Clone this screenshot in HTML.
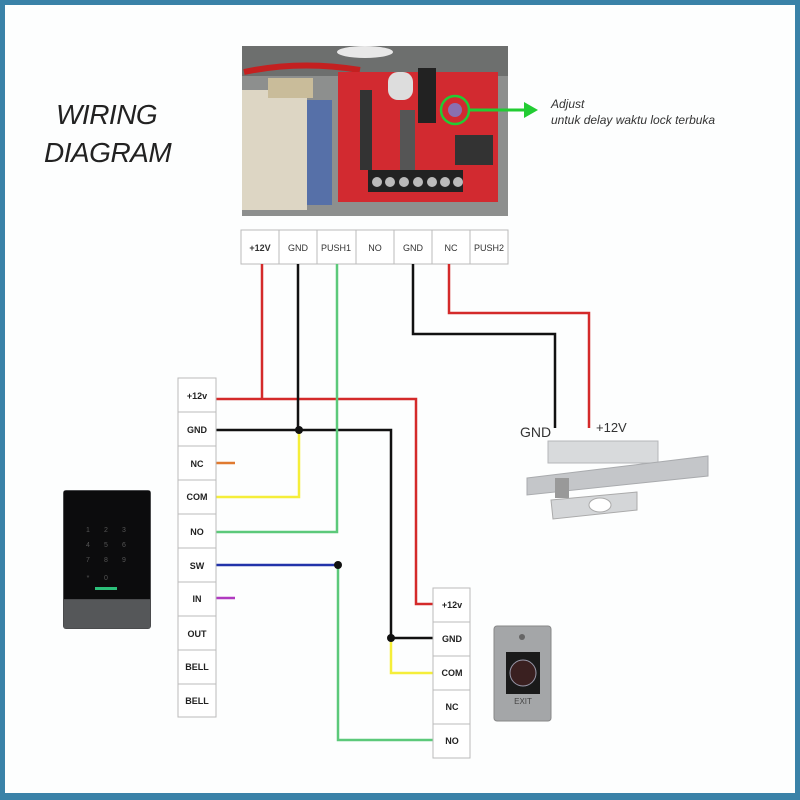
<!DOCTYPE html>
<html><head><meta charset="utf-8"><style>
html,body{margin:0;padding:0;background:#fff}
svg{display:block}
text{font-family:"Liberation Sans",sans-serif}
</style></head><body>
<svg width="800" height="800" viewBox="0 0 800 800" xmlns="http://www.w3.org/2000/svg">
<rect x="0" y="0" width="800" height="800" fill="#3a82a8"/>
<rect x="5" y="5" width="790" height="788" fill="#fdfefe"/>

<text x="56" y="124" font-size="28" font-style="italic" fill="#222" letter-spacing="-0.5">WIRING</text>
<text x="44" y="162" font-size="28" font-style="italic" fill="#222" letter-spacing="-0.5">DIAGRAM</text>

<!-- PSU photo -->
<rect x="242" y="46" width="266" height="170" fill="#8d8f8e"/>
<rect x="242" y="46" width="266" height="30" fill="#6d6f6e"/>
<ellipse cx="365" cy="52" rx="28" ry="6" fill="#e8e8e8"/>
<path d="M244 72 Q300 60 360 70" stroke="#c42020" stroke-width="6" fill="none"/>
<rect x="242" y="90" width="65" height="120" fill="#ddd6c4"/>
<rect x="268" y="78" width="45" height="20" fill="#c9bc9a"/>
<rect x="307" y="100" width="25" height="105" fill="#5670a8"/>
<rect x="338" y="72" width="160" height="130" fill="#d22a30"/>
<rect x="388" y="72" width="25" height="28" rx="10" fill="#ddd"/>
<rect x="418" y="68" width="18" height="55" fill="#222"/>
<rect x="360" y="90" width="12" height="80" fill="#333"/>
<rect x="400" y="110" width="15" height="60" fill="#555"/>
<rect x="455" y="135" width="38" height="30" fill="#333"/>
<rect x="368" y="170" width="95" height="22" fill="#222"/>
<g fill="#bbb"><circle cx="377" cy="182" r="5"/><circle cx="390" cy="182" r="5"/><circle cx="404" cy="182" r="5"/><circle cx="418" cy="182" r="5"/><circle cx="432" cy="182" r="5"/><circle cx="445" cy="182" r="5"/><circle cx="458" cy="182" r="5"/></g>
<circle cx="455" cy="110" r="14" fill="none" stroke="#22cc33" stroke-width="2.5"/>
<circle cx="455" cy="110" r="7" fill="#8a70b0"/>
<line x1="469" y1="110" x2="528" y2="110" stroke="#22cc33" stroke-width="3"/>
<polygon points="524,102 538,110 524,118" fill="#22cc33"/>
<text x="551" y="108" font-size="12" font-style="italic" fill="#333">Adjust</text>
<text x="551" y="124" font-size="12" font-style="italic" fill="#333">untuk delay waktu lock terbuka</text>

<!-- Top terminal block -->
<g stroke="#bbb" fill="#fff">
<rect x="241" y="230" width="267" height="34"/>
<line x1="279" y1="230" x2="279" y2="264"/><line x1="317" y1="230" x2="317" y2="264"/><line x1="356" y1="230" x2="356" y2="264"/><line x1="394" y1="230" x2="394" y2="264"/><line x1="432" y1="230" x2="432" y2="264"/><line x1="470" y1="230" x2="470" y2="264"/>
</g>
<g font-size="9" fill="#333" text-anchor="middle">
<text x="260" y="251" font-weight="bold">+12V</text><text x="298" y="251">GND</text><text x="336" y="251">PUSH1</text><text x="375" y="251">NO</text><text x="413" y="251">GND</text><text x="451" y="251">NC</text><text x="489" y="251">PUSH2</text>
</g>

<!-- wires -->
<g fill="none" stroke-width="2.5">
<polyline points="262,264 262,399" stroke="#d42a2a"/>
<polyline points="216,399 416,399 416,604 433,604" stroke="#d42a2a"/>
<polyline points="298,264 298,430" stroke="#111"/>
<polyline points="216,430 391,430 391,638 433,638" stroke="#111"/>
<polyline points="299,430 299,497 216,497" stroke="#f5ee3a"/>
<polyline points="391,638 391,673 433,673" stroke="#f5ee3a"/>
<polyline points="337,264 337,532 216,532" stroke="#5cc97a"/>
<polyline points="338,565 338,740 433,740" stroke="#5cc97a"/>
<polyline points="216,565 338,565" stroke="#2233aa"/>
<polyline points="216,463 235,463" stroke="#e07a30"/>
<polyline points="216,598 235,598" stroke="#b03ac0"/>
<polyline points="413,264 413,334 555,334 555,428" stroke="#111"/>
<polyline points="449,264 449,313 589,313 589,428" stroke="#d42a2a"/>
</g>
<g fill="#111"><circle cx="299" cy="430" r="4"/><circle cx="338" cy="565" r="4"/><circle cx="391" cy="638" r="4"/></g>
<text x="520" y="437" font-size="14" fill="#333">GND</text>
<text x="596" y="432" font-size="13" fill="#333">+12V</text>

<!-- Left block -->
<g stroke="#bbb" fill="#fff">
<rect x="178" y="378" width="38" height="339"/>
<line x1="178" y1="412" x2="216" y2="412"/><line x1="178" y1="446" x2="216" y2="446"/><line x1="178" y1="480" x2="216" y2="480"/><line x1="178" y1="514" x2="216" y2="514"/><line x1="178" y1="548" x2="216" y2="548"/><line x1="178" y1="582" x2="216" y2="582"/><line x1="178" y1="616" x2="216" y2="616"/><line x1="178" y1="650" x2="216" y2="650"/><line x1="178" y1="684" x2="216" y2="684"/>
</g>
<g font-size="9" font-weight="bold" fill="#222" text-anchor="middle">
<text x="197" y="399">+12v</text><text x="197" y="433">GND</text><text x="197" y="467">NC</text><text x="197" y="500">COM</text><text x="197" y="535">NO</text><text x="197" y="569">SW</text><text x="197" y="602">IN</text><text x="197" y="637">OUT</text><text x="197" y="670">BELL</text><text x="197" y="704">BELL</text>
</g>

<!-- Right block -->
<g stroke="#bbb" fill="#fff">
<rect x="433" y="588" width="37" height="170"/>
<line x1="433" y1="622" x2="470" y2="622"/><line x1="433" y1="656" x2="470" y2="656"/><line x1="433" y1="690" x2="470" y2="690"/><line x1="433" y1="724" x2="470" y2="724"/>
</g>
<g font-size="9" font-weight="bold" fill="#222" text-anchor="middle">
<text x="452" y="608">+12v</text><text x="452" y="642">GND</text><text x="452" y="676">COM</text><text x="452" y="710">NC</text><text x="452" y="744">NO</text>
</g>

<!-- Keypad -->
<rect x="63" y="490" width="88" height="139" rx="3" fill="#4a4b4d"/>
<rect x="64" y="491" width="86" height="108" fill="#0c0c0d"/>
<g fill="#555" font-size="7" text-anchor="middle">
<text x="88" y="532">1</text><text x="106" y="532">2</text><text x="124" y="532">3</text>
<text x="88" y="547">4</text><text x="106" y="547">5</text><text x="124" y="547">6</text>
<text x="88" y="562">7</text><text x="106" y="562">8</text><text x="124" y="562">9</text>
<text x="88" y="580">*</text><text x="106" y="580">0</text>
</g>
<rect x="95" y="587" width="22" height="3" fill="#2cc07a"/>
<rect x="64" y="600" width="86" height="28" fill="#555759"/>

<!-- Lock -->
<rect x="548" y="441" width="110" height="22" fill="#d8dadc" stroke="#b5b7b9"/>
<polygon points="527,478 708,456 708,476 527,495" fill="#c4c6c9" stroke="#a9abae"/>
<rect x="555" y="478" width="14" height="20" fill="#999"/>
<polygon points="551,500 637,492 637,510 553,519" fill="#d4d6d8" stroke="#aaa"/>
<ellipse cx="600" cy="505" rx="11" ry="7" fill="#fff" stroke="#aaa"/>

<!-- Exit button -->
<rect x="494" y="626" width="57" height="95" rx="3" fill="#a4a6a8" stroke="#888"/>
<rect x="506" y="652" width="34" height="42" fill="#1a1a1a"/>
<circle cx="523" cy="673" r="13" fill="#3a2020" stroke="#99a" stroke-width="1"/>
<text x="523" y="704" font-size="8" fill="#444" text-anchor="middle" font-family="Liberation Serif">EXIT</text>
<circle cx="522" cy="637" r="3" fill="#666"/>
</svg>
</body></html>
